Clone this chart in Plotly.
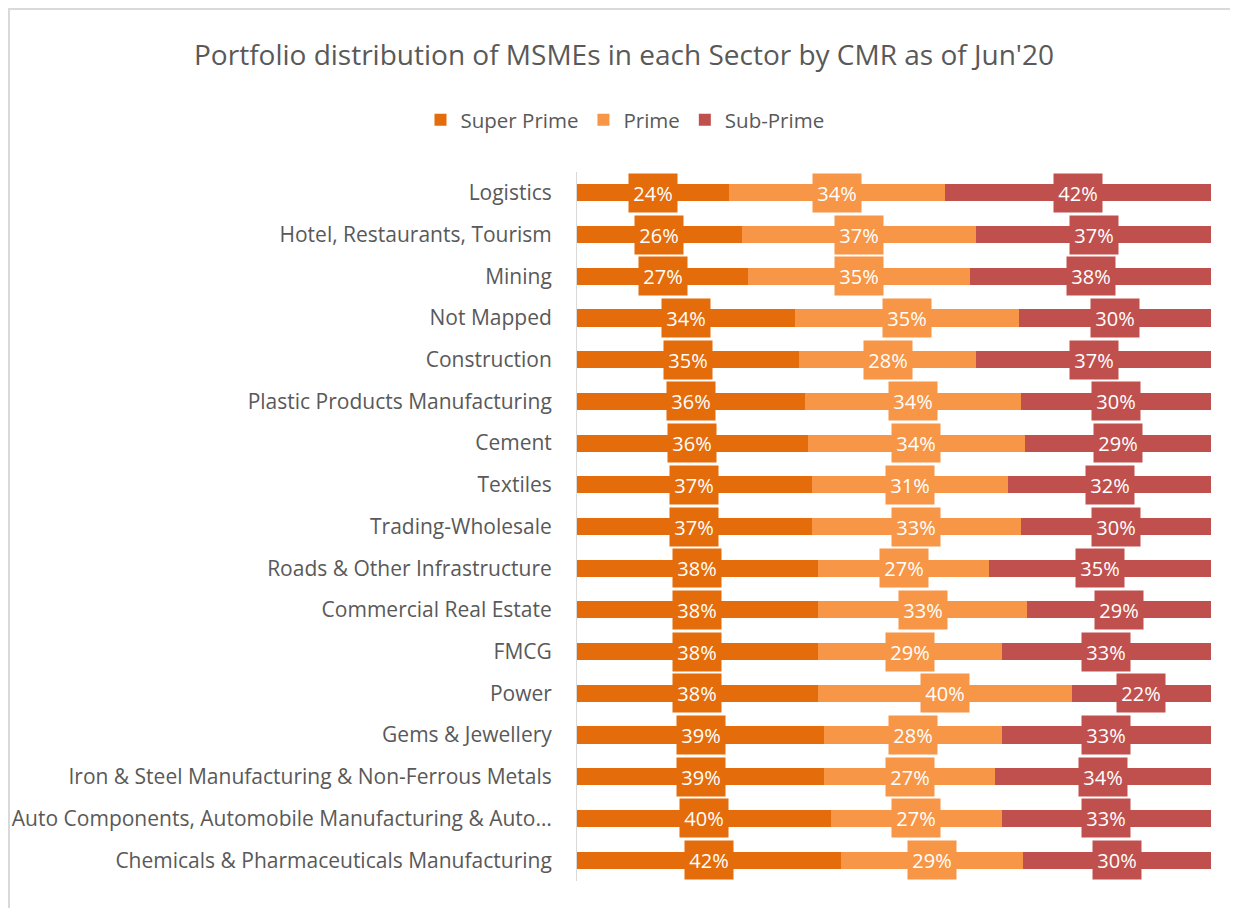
import plotly.graph_objects as go

categories = [
    "Logistics",
    "Hotel, Restaurants, Tourism",
    "Mining",
    "Not Mapped",
    "Construction",
    "Plastic Products Manufacturing",
    "Cement",
    "Textiles",
    "Trading-Wholesale",
    "Roads & Other Infrastructure",
    "Commercial Real Estate",
    "FMCG",
    "Power",
    "Gems & Jewellery",
    "Iron & Steel Manufacturing & Non-Ferrous Metals",
    "Auto Components, Automobile Manufacturing & Auto…",
    "Chemicals & Pharmaceuticals Manufacturing",
]
super_prime = [24, 26, 27, 34, 35, 36, 36, 37, 37, 38, 38, 38, 38, 39, 39, 40, 42]
prime = [34, 37, 35, 35, 28, 34, 34, 31, 33, 27, 33, 29, 40, 28, 27, 27, 29]
sub_prime = [42, 37, 38, 30, 37, 30, 29, 32, 30, 35, 29, 33, 22, 33, 34, 33, 30]

series = [
    ("Super Prime", super_prime, "#E46C0A"),
    ("Prime", prime, "#F79646"),
    ("Sub-Prime", sub_prime, "#C0504D"),
]

FONT = "Open Sans"
W, H = 1230, 900
L, T, PW, PH = 569, 164, 634, 709

fig = go.Figure()
for name, vals, col in series:
    fig.add_trace(go.Bar(
        name=name, y=categories, x=vals, orientation="h",
        marker=dict(color=col, line=dict(width=0)),
        hoverinfo="skip",
    ))

annotations = []
for i, cat in enumerate(categories):
    tot = super_prime[i] + prime[i] + sub_prime[i]
    cum = 0
    for name, vals, col in series:
        v = vals[i] / tot * 100
        annotations.append(dict(
            x=cum + v / 2, y=cat, xref="x", yref="y",
            text=f"{vals[i]}%", showarrow=False,
            bgcolor=col, width=46, height=36, borderpad=1,
            font=dict(family=FONT, size=20, color="white"),
        ))
        cum += v

fig.update_layout(
    barmode="stack", barnorm="percent", bargap=0.59,
    width=W, height=H,
    margin=dict(l=L, r=W - L - PW, t=T, b=H - T - PH, autoexpand=False),
    paper_bgcolor="white", plot_bgcolor="white",
    font=dict(family=FONT, color="#595959"),
    title=dict(
        text="Portfolio distribution of MSMEs in each Sector by CMR as of Jun'20",
        x=(624 - 8) / W, xanchor="center", y=1 - 47 / H, yanchor="middle",
        font=dict(family=FONT, size=28, color="#595959"),
    ),
    legend=dict(
        orientation="h", x=(625 - 8 - L) / PW, xanchor="center",
        y=1 + (T - 112) / PH, yanchor="middle",
        font=dict(family=FONT, size=20.5, color="#595959"),
        traceorder="normal", itemwidth=30,
    ),
    xaxis=dict(range=[0, 100], showgrid=False, showticklabels=False,
               zeroline=False, showline=False, fixedrange=True),
    yaxis=dict(autorange="reversed", showgrid=False, showline=True,
               linecolor="#D9D9D9", linewidth=1, ticks="",
               ticklabelstandoff=20,
               tickfont=dict(family=FONT, size=21, color="#595959")),
    annotations=annotations,
    shapes=[
        dict(type="line", xref="paper", yref="paper",
             x0=-L / PW, x1=(W - 6 - L) / PW,
             y0=1 + (T - 1) / PH, y1=1 + (T - 1) / PH,
             line=dict(color="#D9D9D9", width=2)),
        dict(type="line", xref="paper", yref="paper",
             x0=(1 - L) / PW, x1=(1 - L) / PW,
             y0=-(H - T - PH) / PH, y1=1 + (T - 1) / PH,
             line=dict(color="#D9D9D9", width=2)),
    ],
    showlegend=True,
)

fig.write_html("out.html")
